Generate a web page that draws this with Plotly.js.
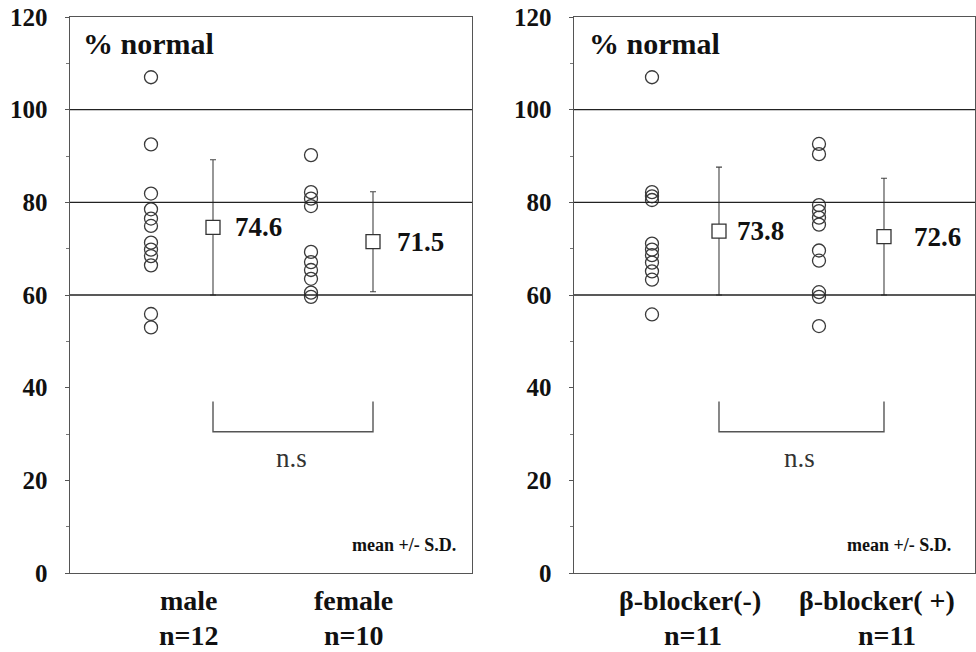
<!DOCTYPE html>
<html>
<head>
<meta charset="utf-8">
<script src="https://cdn.plot.ly/plotly-3.0.1.min.js"></script>
<style>html,body{margin:0;padding:0;background:#fff;}#chart{width:976px;height:652px;}</style>
</head>
<body>
<div id="chart"></div>
<script>
// ---- data ----
var maleValues = [107, 92.5, 81.9, 78.5, 76.5, 74.9, 71.3, 69.8, 68.4, 66.4, 55.9, 53.0];
var femaleValues = [90.2, 82.2, 80.8, 79.2, 69.3, 67.1, 65.4, 63.5, 60.5, 59.6];
var bbMinusValues = [107, 82.2, 81.3, 80.5, 71.1, 69.8, 68.6, 67.0, 65.1, 63.3, 55.8];
var bbPlusValues = [92.6, 90.4, 79.4, 78.1, 76.7, 75.2, 69.6, 67.4, 60.6, 59.6, 53.3];

var leftCategories = ["male", "female"];
var leftCounts = ["n=12", "n=10"];
var leftMeans = [74.6, 71.5];
var leftSD = [14.6, 10.8];

var rightCategories = ["β-blocker(-)", "β-blocker( +)"];
var rightCounts = ["n=11", "n=11"];
var rightMeans = [73.8, 72.6];
var rightSD = [13.8, 12.6];

var refLines = [60, 80, 100];
var yTicks = [0, 20, 40, 60, 80, 100, 120];
var panelLabel = "% normal";
var sigLabel = "n.s";
var noteLabel = "mean +/- S.D.";

// ---- layout positions (not data) ----
var pos = {
  left:  {pts: [0.81, 2.41], mean: [1.43, 3.03], range: [0, 4.02], cat: [1.19, 2.83], cnt: [1.19, 2.84], lblShift: [20, 22], ns: 2.21},
  right: {pts: [0.78, 2.45], mean: [1.45, 3.10], range: [0, 4.01], cat: [1.16, 3.03], cnt: [1.19, 3.13], lblShift: [16, 28], ns: 2.26}
};
var bracketTop = 37, bracketBottom = 30.5;

var ink = "#111";
function tf(size, bold, color) {
  var f = {family: "Times New Roman", size: size, color: color || ink};
  if (bold) f.weight = "bold";
  return f;
}

function pointsTrace(vals, x, xa, ya) {
  return {
    type: "scatter", mode: "markers",
    x: vals.map(function(){ return x; }), y: vals,
    xaxis: xa, yaxis: ya, hoverinfo: "y",
    marker: {symbol: "circle", size: 13, color: "rgba(255,255,255,0)", line: {color: "#3a3a3a", width: 1.3}},
    showlegend: false, cliponaxis: false
  };
}
function meanTrace(means, sds, xs, xa, ya) {
  return {
    type: "scatter", mode: "markers",
    x: xs, y: means, xaxis: xa, yaxis: ya,
    error_y: {type: "data", array: sds, visible: true, color: "#444", thickness: 1.1, width: 3},
    marker: {symbol: "square", size: 14, color: "#fff", line: {color: "#333", width: 1.3}},
    showlegend: false
  };
}

var traces = [
  pointsTrace(maleValues, pos.left.pts[0], "x", "y"),
  pointsTrace(femaleValues, pos.left.pts[1], "x", "y"),
  meanTrace(leftMeans, leftSD, pos.left.mean, "x", "y"),
  pointsTrace(bbMinusValues, pos.right.pts[0], "x2", "y2"),
  pointsTrace(bbPlusValues, pos.right.pts[1], "x2", "y2"),
  meanTrace(rightMeans, rightSD, pos.right.mean, "x2", "y2")
];

var shapes = [];
var annotations = [];

function panel(xa, ya, p, cats, counts, means) {
  var xd = xa + " domain", yd = ya + " domain";
  refLines.forEach(function(v){
    shapes.push({type: "line", xref: xd, yref: ya, x0: 0, x1: 1, y0: v, y1: v, line: {color: "#222", width: 1.4}});
  });
  shapes.push({type: "path", xref: xa, yref: ya,
    path: "M " + p.mean[0] + "," + bracketTop + " L " + p.mean[0] + "," + bracketBottom +
          " L " + p.mean[1] + "," + bracketBottom + " L " + p.mean[1] + "," + bracketTop,
    line: {color: "#555", width: 1.4}});
  annotations.push({xref: xd, yref: yd, x: (xa === "x" ? 0.028 : 0.033), y: 0.953, xanchor: "left", yanchor: "middle",
    text: panelLabel, showarrow: false, font: tf(30, true)});
  annotations.push({xref: xd, yref: yd, x: (xa === "x" ? 0.965 : 0.945), y: 0.05, xanchor: "right", yanchor: "middle",
    text: noteLabel, showarrow: false, font: tf(18, true)});
  annotations.push({xref: xa, yref: ya, x: p.ns, y: 24.8, xanchor: "center", yanchor: "middle",
    text: sigLabel, showarrow: false, font: tf(27, false, "#333")});
  for (var i = 0; i < 2; i++) {
    annotations.push({xref: xa, yref: ya, x: p.mean[i], y: means[i], xanchor: "left", yanchor: "middle", xshift: p.lblShift[i],
      text: means[i].toFixed(1), showarrow: false, font: tf(27, true)});
    annotations.push({xref: xa, yref: "paper", x: p.cat[i], y: -0.05, xanchor: "center", yanchor: "middle",
      text: cats[i], showarrow: false, font: tf(28, true)});
    annotations.push({xref: xa, yref: "paper", x: p.cnt[i], y: -0.113, xanchor: "center", yanchor: "middle",
      text: counts[i], showarrow: false, font: tf(28, true)});
  }
}
panel("x", "y", pos.left, leftCategories, leftCounts, leftMeans);
panel("x2", "y2", pos.right, rightCategories, rightCounts, rightMeans);

function yAxis(anchor) {
  return {
    anchor: anchor, domain: [0, 1], range: [0, 120], tickvals: yTicks,
    ticks: "outside", ticklen: 4, tickcolor: "#555", tickwidth: 1,
    minor: {dtick: 10, ticks: "outside", ticklen: 3, tickcolor: "#777"},
    showgrid: false, zeroline: false, showline: true, mirror: true, linecolor: "#555", linewidth: 1.4,
    tickfont: tf(25, true), ticklabelstandoff: 12, fixedrange: true
  };
}
function xAxis(anchor, domain, range) {
  return {
    anchor: anchor, domain: domain, range: range, showticklabels: false, ticks: "",
    showgrid: false, zeroline: false, showline: true, mirror: true, linecolor: "#555", linewidth: 1.4, fixedrange: true
  };
}

var layout = {
  width: 976, height: 652,
  margin: {l: 70, r: 1, t: 17, b: 79},
  paper_bgcolor: "#fff", plot_bgcolor: "#fff",
  showlegend: false,
  xaxis: xAxis("y", [0, 0.4442], pos.left.range),
  yaxis: yAxis("x"),
  xaxis2: xAxis("y2", [0.5569, 1], pos.right.range),
  yaxis2: yAxis("x2"),
  shapes: shapes,
  annotations: annotations
};

Plotly.newPlot("chart", traces, layout, {staticPlot: true});
</script>
</body>
</html>
